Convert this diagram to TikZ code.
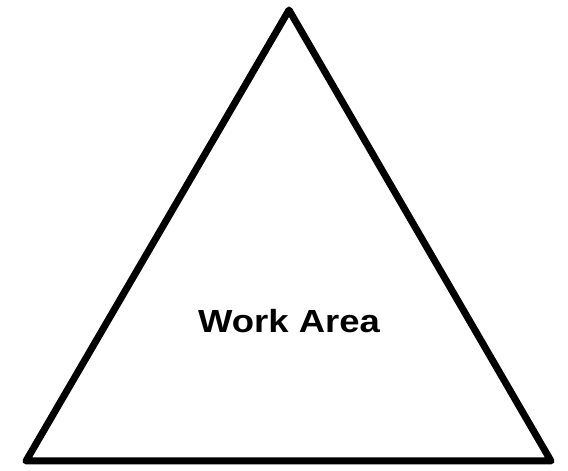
\documentclass[tikz,border=0pt]{standalone}
\usepackage{fontspec}
\setmainfont{Liberation Sans}
\usetikzlibrary{calc}

\begin{document}
\begin{tikzpicture}[x=1pt, y=1pt]

  % Styles for the triangle outline and its label
  \tikzset{
    areaside/.style={line width=7pt, line join=round, line cap=round},
    arealabel/.style={font=\fontsize{32}{36}\selectfont\bfseries, inner sep=0pt}
  }

  \useasboundingbox (0,0) rectangle (568,471);

  % 1. Define Triangle Vertices
  \coordinate (T) at (289,461);
  \coordinate (L) at (26,10);
  \coordinate (R) at (551,10);

  % --- DRAWING LINES ---
  \draw[areaside] (T) -- (L) -- (R) -- cycle;

  % --- LABEL ---
  \node[arealabel] (work) at (289,150) {\scalebox{1.14}[1]{Work Area}};

\end{tikzpicture}
\end{document}
